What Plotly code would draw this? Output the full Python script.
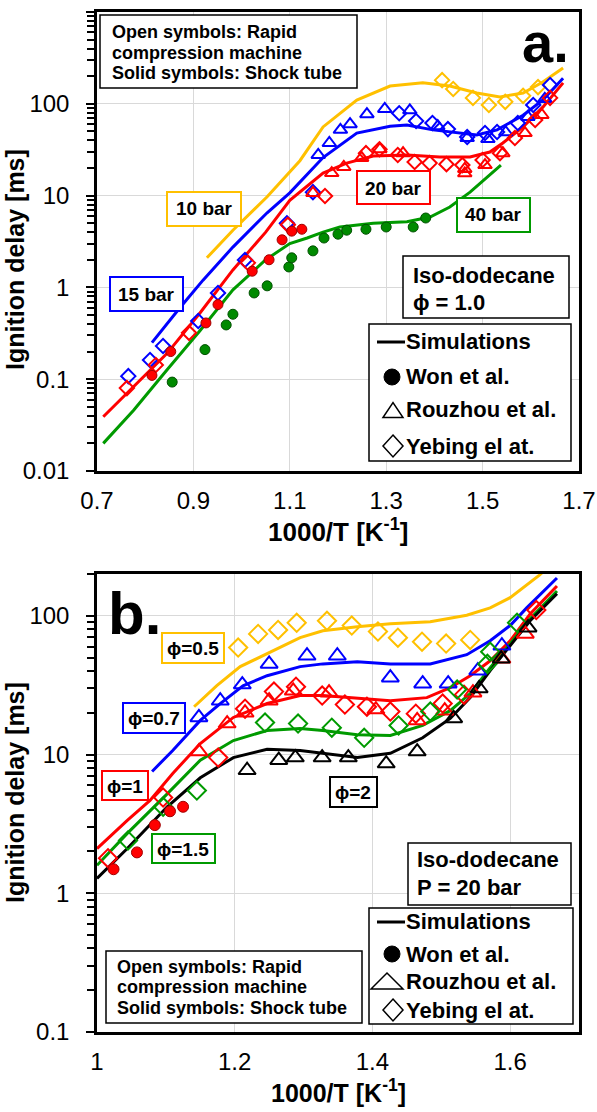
import plotly.graph_objects as go

W, H = 597, 1112
L, R, T, B = 97, 18, 12, 80

# ---------------- Panel a data (phi = 1.0) ----------------
sim10_x = [0.928, 0.982, 1.053, 1.121, 1.169, 1.239, 1.308, 1.376, 1.432, 1.488, 1.536, 1.584, 1.625, 1.667]
sim10_y = [2.1, 4.2, 9.7, 24, 56, 110, 156, 169, 156, 131, 119, 131, 173, 245]
sim15_x = [0.814, 0.872, 0.92, 0.982, 1.053, 1.1, 1.169, 1.239, 1.308, 1.343, 1.397, 1.447, 1.488, 1.53, 1.584, 1.625, 1.667]
sim15_y = [0.25, 0.6, 1.2, 2.75, 6.5, 10.7, 26, 48, 57, 58.7, 52, 48, 45.7, 52, 75, 110, 190]
sim20_x = [0.713, 0.776, 0.845, 0.914, 0.982, 1.05, 1.1, 1.169, 1.218, 1.273, 1.343, 1.411, 1.474, 1.515, 1.542, 1.584, 1.625, 1.667]
sim20_y = [0.039, 0.082, 0.19, 0.53, 1.55, 4.0, 8.9, 17.6, 22.6, 27, 27.7, 26.3, 26.3, 29.8, 37.4, 56, 92, 169]
sim40_x = [0.713, 0.776, 0.845, 0.914, 0.982, 1.05, 1.1, 1.136, 1.169, 1.204, 1.273, 1.343, 1.391, 1.432, 1.474, 1.509, 1.538]
sim40_y = [0.020, 0.046, 0.126, 0.34, 0.94, 2.0, 3.0, 3.45, 4.0, 4.55, 5.0, 5.2, 5.85, 7.5, 10.9, 16, 21.5]

won20_x = [0.814, 0.853, 0.926, 0.951, 1.022, 1.057, 1.084, 1.104, 1.125]
won20_y = [0.11, 0.2, 0.41, 0.65, 1.5, 2.0, 3.3, 4.1, 4.3]
won40_x = [0.856, 0.924, 0.968, 0.982, 1.026, 1.053, 1.098, 1.104, 1.148, 1.171, 1.2, 1.218, 1.258, 1.3, 1.356, 1.382]
won40_y = [0.093, 0.21, 0.39, 0.51, 0.87, 1.04, 1.67, 2.1, 2.5, 3.45, 3.8, 4.2, 4.3, 4.55, 4.55, 5.7]

rou15_x = [1.159, 1.182, 1.205, 1.225, 1.26, 1.297, 1.349, 1.407, 1.468, 1.511, 1.548, 1.594, 1.629]
rou15_y = [27.7, 37.4, 52, 60, 77, 88, 85, 57, 42.4, 41.3, 49, 72, 113]
rou20_x = [1.148, 1.187, 1.212, 1.249, 1.287, 1.335, 1.463, 1.463, 1.505, 1.542, 1.588, 1.623]
rou20_y = [10.7, 17.6, 20.5, 25.7, 32, 29, 19.5, 17.5, 21.5, 29, 48, 75.5]

yeb10_x = [1.416, 1.439, 1.48, 1.513, 1.547, 1.584, 1.615]
yeb10_y = [181, 145, 116, 97, 105, 122, 152]
yeb15_x = [0.765, 0.81, 0.837, 0.91, 0.951, 1.007, 1.094, 1.148, 1.327, 1.362, 1.396, 1.428, 1.468, 1.505, 1.53, 1.573, 1.605, 1.64]
yeb15_y = [0.108, 0.162, 0.23, 0.43, 0.87, 1.99, 5.0, 10.9, 79, 65, 61.7, 53, 43.5, 48, 49.3, 61.7, 97, 160]
yeb20_x = [0.762, 0.822, 0.891, 1.013, 1.096, 1.173, 1.258, 1.286, 1.324, 1.359, 1.39, 1.425, 1.458, 1.5, 1.536, 1.567, 1.609, 1.64]
yeb20_y = [0.08, 0.143, 0.32, 1.85, 4.8, 9.9, 29, 32, 27.7, 23.2, 22.6, 22, 21.5, 24.4, 29, 42.4, 66.6, 116]

# ---------------- Panel b data (P = 20 bar) ----------------
simp05_x = [1.141, 1.174, 1.208, 1.247, 1.295, 1.328, 1.378, 1.426, 1.484, 1.537, 1.571, 1.6, 1.619, 1.643, 1.665]
simp05_y = [22.1, 31.4, 43, 53.3, 69.5, 78, 83.4, 87.5, 90.6, 101, 114, 135, 159, 197, 250]
simp07_x = [1.08, 1.11, 1.15, 1.179, 1.212, 1.247, 1.295, 1.328, 1.378, 1.426, 1.484, 1.537, 1.571, 1.6, 1.624, 1.668]
simp07_y = [7.55, 10.7, 17.6, 23.3, 31.3, 37, 43, 45, 46.7, 45, 45, 52.4, 66, 85, 114, 187]
simp1_x = [1.0, 1.044, 1.077, 1.11, 1.15, 1.198, 1.247, 1.295, 1.328, 1.378, 1.426, 1.479, 1.513, 1.542, 1.571, 1.6, 1.629, 1.668]
simp1_y = [2.1, 3.35, 4.67, 7.3, 12, 18.5, 23.3, 26.6, 26.6, 25.3, 24.4, 25.7, 30.3, 37, 47.4, 66, 103, 164]
simp15_x = [1.0, 1.044, 1.102, 1.15, 1.198, 1.247, 1.295, 1.328, 1.378, 1.426, 1.473, 1.513, 1.542, 1.571, 1.6, 1.629, 1.668]
simp15_y = [1.59, 2.7, 5.2, 9.1, 12.6, 14.9, 15.4, 14.9, 13.9, 13.7, 16.2, 20.7, 27.5, 42.3, 63, 95, 151]
simp2_x = [1.0, 1.044, 1.102, 1.15, 1.198, 1.247, 1.295, 1.328, 1.378, 1.426, 1.473, 1.513, 1.542, 1.571, 1.6, 1.629, 1.668]
simp2_y = [1.28, 2.1, 4.2, 6.8, 9.5, 10.9, 10.7, 10.2, 9.5, 10.2, 13.2, 18.2, 25.7, 40.2, 61, 92, 144]

ybp05_x = [1.205, 1.234, 1.263, 1.29, 1.334, 1.37, 1.408, 1.437, 1.472, 1.507, 1.542]
ybp05_y = [59, 74, 79, 89, 92, 85, 77, 69.5, 65, 63, 67]
rzp07_x = [1.148, 1.179, 1.211, 1.25, 1.305, 1.349, 1.426, 1.473, 1.51, 1.553, 1.588]
rzp07_y = [18.5, 24.4, 31.9, 45, 51.5, 51.5, 35.8, 32.4, 32.4, 40.2, 60.8]
rzp1_x = [1.148, 1.189, 1.215, 1.25, 1.285, 1.337, 1.405, 1.465, 1.505, 1.546, 1.588, 1.622]
rzp1_y = [10.5, 16.7, 20, 24.4, 28.8, 27.9, 21.1, 17.6, 20.7, 27.9, 49, 74]
ybp1_x = [1.016, 1.096, 1.176, 1.215, 1.257, 1.289, 1.327, 1.36, 1.392, 1.426, 1.463, 1.502, 1.533, 1.638]
ybp1_y = [1.79, 4.9, 9.5, 21.4, 28.4, 30.8, 26.6, 22.9, 22.1, 20.4, 19.7, 23.3, 27, 110]
ybp15_x = [1.045, 1.096, 1.145, 1.244, 1.292, 1.341, 1.388, 1.438, 1.484, 1.523, 1.567, 1.571, 1.61]
ybp15_y = [2.4, 4.2, 5.5, 17, 16.7, 15.6, 13.2, 16.2, 20.4, 29.4, 45, 55, 89]
rzp2_x = [1.218, 1.264, 1.288, 1.327, 1.365, 1.42, 1.465, 1.518, 1.555, 1.587, 1.626]
rzp2_y = [7.7, 9.1, 9.5, 9.5, 9.5, 8.6, 10.5, 18.2, 29.9, 49, 82]
wonp1_x = [1.024, 1.058, 1.084, 1.106, 1.125]
wonp1_y = [1.49, 1.97, 3.1, 3.9, 4.2]

# tick labels
a_xticks = [0.7, 0.9, 1.1, 1.3, 1.5, 1.7]
a_xlabels = ["0.7", "0.9", "1.1", "1.3", "1.5", "1.7"]
a_yticks = [0.01, 0.1, 1, 10, 100, 1000]
a_ylabels = ["0.01", "0.1", "1", "10", "100", "1000"]
b_xticks = [1.0, 1.2, 1.4, 1.6]
b_xlabels = ["1", "1.2", "1.4", "1.6"]
b_yticks = [0.1, 1, 10, 100]
b_ylabels = ["0.1", "1", "10", "100"]

YEL, BLU, RED, GRN, BLK = "#FFC000", "#0000FF", "#FF0000", "#009A00", "#000000"
FONT = "Liberation Sans, Arial, sans-serif"
PHI = "\u03d5"

fig = go.Figure()

def line(x, y, c, xa, ya):
    fig.add_trace(go.Scatter(x=x, y=y, mode="lines", line=dict(color=c, width=3),
                             xaxis=xa, yaxis=ya, showlegend=False, hoverinfo="skip"))

def pts(x, y, c, sym, size, xa, ya, edge=None):
    if sym == "circle":
        mk = dict(symbol="circle", size=size, color=c, line=dict(color=edge or c, width=1))
    else:
        mk = dict(symbol=sym, size=size, color=c, line=dict(color=c, width=2))
    fig.add_trace(go.Scatter(x=x, y=y, mode="markers", marker=mk, xaxis=xa, yaxis=ya,
                             showlegend=False, hoverinfo="skip", cliponaxis=False))

# panel a
line(sim10_x, sim10_y, YEL, "x", "y")
line(sim15_x, sim15_y, BLU, "x", "y")
line(sim20_x, sim20_y, RED, "x", "y")
line(sim40_x, sim40_y, GRN, "x", "y")
pts(yeb10_x, yeb10_y, YEL, "diamond-open", 11, "x", "y")
pts(rou15_x, rou15_y, BLU, "triangle-up-open", 12, "x", "y")
pts(yeb15_x, yeb15_y, BLU, "diamond-open", 11, "x", "y")
pts(rou20_x, rou20_y, RED, "triangle-up-open", 12, "x", "y")
pts(yeb20_x, yeb20_y, RED, "diamond-open", 11, "x", "y")
pts(won20_x, won20_y, RED, "circle", 10, "x", "y", "#A00000")
pts(won40_x, won40_y, "#008A00", "circle", 10, "x", "y", "#005000")

# panel b
line(simp05_x, simp05_y, YEL, "x2", "y2")
line(simp07_x, simp07_y, BLU, "x2", "y2")
line(simp1_x, simp1_y, RED, "x2", "y2")
line(simp15_x, simp15_y, GRN, "x2", "y2")
line(simp2_x, simp2_y, BLK, "x2", "y2")
pts(ybp05_x, ybp05_y, YEL, "diamond-open", 14, "x2", "y2")
pts(rzp07_x, rzp07_y, BLU, "triangle-up-open", 15, "x2", "y2")
pts(rzp1_x, rzp1_y, RED, "triangle-up-open", 15, "x2", "y2")
pts(ybp1_x, ybp1_y, RED, "diamond-open", 14, "x2", "y2")
pts(ybp15_x, ybp15_y, GRN, "diamond-open", 14, "x2", "y2")
pts(rzp2_x, rzp2_y, BLK, "triangle-up-open", 15, "x2", "y2")
pts(wonp1_x, wonp1_y, RED, "circle", 11, "x2", "y2", "#A00000")

def minor_vals(lo, hi):
    return [m * 10 ** e for e in range(lo, hi) for m in range(2, 10)]

axis_common = dict(showline=True, linecolor="black", linewidth=2.5, mirror=True, automargin=False,
                   showgrid=True, gridcolor="#D9D9D9", gridwidth=1, zeroline=False,
                   tickfont=dict(family=FONT, size=24, color="black"))

def px2paper(xp, yp):
    return (xp - L) / (W - L - R), (H - B - yp) / (H - T - B)

a_bot = px2paper(0, 471)[1]
b_top = px2paper(0, 574)[1]

ymajor = dict(ticks="outside", ticklen=8, tickwidth=2, tickcolor="black", ticklabelstandoff=12)

fig.update_layout(
    width=W, height=H, margin=dict(l=L, r=R, t=T, b=B, autoexpand=False),
    paper_bgcolor="white", plot_bgcolor="white",
    xaxis=dict(axis_common, domain=[0, 1], range=[0.7, 1.7], tickvals=a_xticks, ticktext=a_xlabels,
               ticks="", anchor="y", ticklabelstandoff=6),
    yaxis=dict(axis_common, **ymajor, domain=[a_bot, 1], type="log", range=[-2, 3], tickvals=a_yticks,
               ticktext=a_ylabels,
               minor=dict(tickvals=minor_vals(-2, 3), ticks="outside", ticklen=7, tickwidth=1.5,
                          tickcolor="black", showgrid=False),
               anchor="x"),
    xaxis2=dict(axis_common, domain=[0, 1], range=[1.0, 1.7], tickvals=b_xticks, ticktext=b_xlabels,
                ticks="", anchor="y2", ticklabelstandoff=6),
    yaxis2=dict(axis_common, **ymajor, domain=[0, b_top], type="log", range=[-1, 2.30103], tickvals=b_yticks,
                ticktext=b_ylabels,
                minor=dict(tickvals=minor_vals(-1, 3), ticks="outside", ticklen=7, tickwidth=1.5,
                           tickcolor="black", showgrid=False),
                anchor="x2"),
)

shapes = []
annots = []

def box(x0, y0, x1, y1, color, w=2):
    p0 = px2paper(x0, y0); p1 = px2paper(x1, y1)
    shapes.append(dict(type="rect", xref="paper", yref="paper", x0=p0[0], x1=p1[0], y0=p1[1], y1=p0[1],
                       line=dict(color=color, width=w), fillcolor="white", layer="above"))

def path(points, w=1.5, fill=None):
    s = "M " + " L ".join("%f,%f" % px2paper(a, b) for a, b in points) + " Z"
    shapes.append(dict(type="path", xref="paper", yref="paper", path=s, layer="above",
                       line=dict(color="black", width=w), fillcolor=fill or "rgba(0,0,0,0)"))

def seg(x0, x1, y, w=3):
    p0 = px2paper(x0, y); p1 = px2paper(x1, y)
    shapes.append(dict(type="line", xref="paper", yref="paper", x0=p0[0], x1=p1[0], y0=p0[1], y1=p1[1],
                       line=dict(color="black", width=w), layer="above"))

def dot(cx, cy, r):
    p0 = px2paper(cx - r, cy + r); p1 = px2paper(cx + r, cy - r)
    shapes.append(dict(type="circle", xref="paper", yref="paper", x0=p0[0], x1=p1[0], y0=p0[1], y1=p1[1],
                       line=dict(color="black", width=1), fillcolor="black", layer="above"))

def text(x, y, s, size, anchor="center", bold=True, color="black", angle=0):
    p = px2paper(x, y)
    annots.append(dict(xref="paper", yref="paper", x=p[0], y=p[1], text=("<b>%s</b>" % s) if bold else s,
                       showarrow=False, xanchor=anchor, yanchor="middle", align="left", textangle=angle,
                       font=dict(family=FONT, size=size, color=color)))

def legend(x0, y0, x1, y1, ys, tri_w, tri_h, tx):
    box(x0, y0, x1, y1, "black", 1.5)
    seg(377, 405, ys[0])
    dot(392, ys[1], 8)
    cx = 403 - tri_w / 2
    path([(cx - tri_w / 2, ys[2] + tri_h / 2), (cx, ys[2] - tri_h / 2), (cx + tri_w / 2, ys[2] + tri_h / 2)])
    path([(393, ys[3] - 11), (403, ys[3]), (393, ys[3] + 11), (383, ys[3])])
    for yy, s in zip(ys, ["Simulations", "Won et al.", "Rouzhou et al.", "Yebing el at."]):
        text(tx, yy, s, 22, "left")

# axis titles
text(15, 260, "Ignition delay [ms]", 25, angle=-90)
text(15, 793, "Ignition delay [ms]", 25, angle=-90)
text(338, 530, "1000/T [K<sup>-1</sup>]", 26)
text(338, 1091, "1000/T [K<sup>-1</sup>]", 25)

# panel a labels
box(100, 15, 357, 88, "black", 1.5)
for yy, s in zip([32, 53, 73], ["Open symbols: Rapid", "compression machine", "Solid symbols: Shock tube"]):
    text(110, yy, s, 18, "left")
text(545, 42, "a.", 56)
box(167, 192, 241, 226, YEL); text(204, 209, "10 bar", 19)
box(110, 277, 183, 311, BLU); text(146, 294, "15 bar", 19)
box(357, 171, 430, 204, RED); text(393, 188, "20 bar", 19)
box(457, 198, 530, 232, GRN); text(493, 215, "40 bar", 19)
box(403, 256, 569, 318, "black", 1.5)
text(411, 275, "Iso-dodecane", 22, "left")
text(411, 302, PHI + " = 1.0", 22, "left")
legend(369, 324, 571, 461, [342, 377, 410, 446], 20, 15, 404)

# panel b labels
text(134, 613, "b.", 60)
box(162, 633, 224, 663, YEL); text(193, 648, PHI + "=0.5", 19)
box(123, 703, 185, 733, BLU); text(154, 718, PHI + "=0.7", 19)
box(102, 771, 148, 800, RED); text(125, 786, PHI + "=1", 19)
box(152, 834, 215, 863, GRN); text(183, 849, PHI + "=1.5", 19)
box(330, 777, 377, 807, BLK); text(353, 792, PHI + "=2", 19)
box(408, 843, 571, 905, "black", 1.5)
text(415, 860, "Iso-dodecane", 22, "left")
text(415, 887, "P = 20 bar", 22, "left")
legend(369, 908, 573, 1024, [922, 954, 981, 1010], 32, 16, 404)
box(106, 951, 362, 1023, "black", 1.5)
for yy, s in zip([967, 987, 1008], ["Open symbols: Rapid", "compression machine", "Solid symbols: Shock tube"]):
    text(115, yy, s, 18, "left")

fig.update_layout(shapes=shapes, annotations=annots)
fig.write_html("out.html")
